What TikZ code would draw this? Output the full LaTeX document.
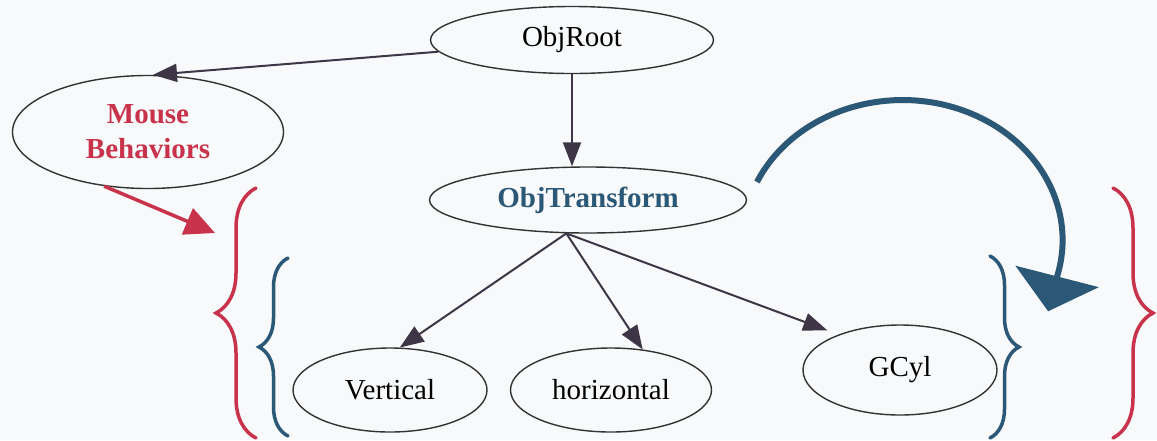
\documentclass[tikz,border=0pt]{standalone}
\usepackage{fontspec}
\setmainfont{Liberation Serif}
\usetikzlibrary{shapes.geometric,arrows.meta,decorations.pathreplacing,positioning}
\definecolor{objred}{HTML}{C8334B}
\definecolor{objblue}{HTML}{2B5877}
\definecolor{objdark}{HTML}{3E3646}
\definecolor{paper}{HTML}{F7F9FA}

\begin{document}
\begin{tikzpicture}[x=1pt,y=-1pt,
  obj/.style={ellipse,draw=black!80,line width=1.4pt,inner sep=0pt,font=\fontsize{29}{35}\selectfont},
  link/.style={objdark,line width=2pt,-{Triangle[length=24pt,width=18pt]}},
  bracered/.style={objred,line width=3.5pt,line cap=round,decorate,decoration={brace,amplitude=40pt}},
  braceblue/.style={objblue,line width=3.5pt,line cap=round,decorate,decoration={brace,amplitude=29pt}}]
\clip (0,0) rectangle (1157,440);
\fill[paper] (0,0) rectangle (1157,440);

\node[obj,minimum width=283pt,minimum height=67pt] (root) at (572,40) {ObjRoot};
\node[obj,minimum width=271pt,minimum height=113pt,align=center,text=objred,font=\fontsize{29}{35}\selectfont\bfseries] (mouse) at (148,132) {Mouse\\Behaviors};
\node[obj,minimum width=317pt,minimum height=66pt,text=objblue,font=\fontsize{29}{35}\selectfont\bfseries] (trans) at (588,200) {ObjTransform};
\node[obj,minimum width=194pt,minimum height=84pt] (vert) at (390,390) {Vertical};
\node[obj,minimum width=201pt,minimum height=84pt] (horiz) at (611,390) {horizontal};
\node[obj,minimum width=194pt,minimum height=90pt] (gcyl) at (900,370) {GCyl};
\coordinate (redtip) at (215,233);

\draw[link] (root.185) -- (mouse.85);
\draw[link] (root.south) -- (root.south |- trans.north);
\draw[link] (trans.237) -- (vert.77);
\draw[link] (trans.237) -- (horiz.52);
\draw[link,shorten >=12pt] (trans.237) -- (gcyl.150);

\draw[objred,line width=3.5pt,-{Triangle[length=30pt,width=28pt]}] (mouse.231) -- (redtip);
\draw[objblue,line width=6pt,-{Triangle[length=36pt,width=85pt]}] (757,182) arc[start angle=204.5,end angle=375,x radius=160,y radius=140] -- ++(-9,35);

\draw[bracered] (256,438) -- (256,188);
\draw[bracered] (1113,188) -- (1113,438);
\draw[braceblue] (288,436) -- (288,258);
\draw[braceblue] (990,256) -- (990,438);
\end{tikzpicture}
\end{document}
